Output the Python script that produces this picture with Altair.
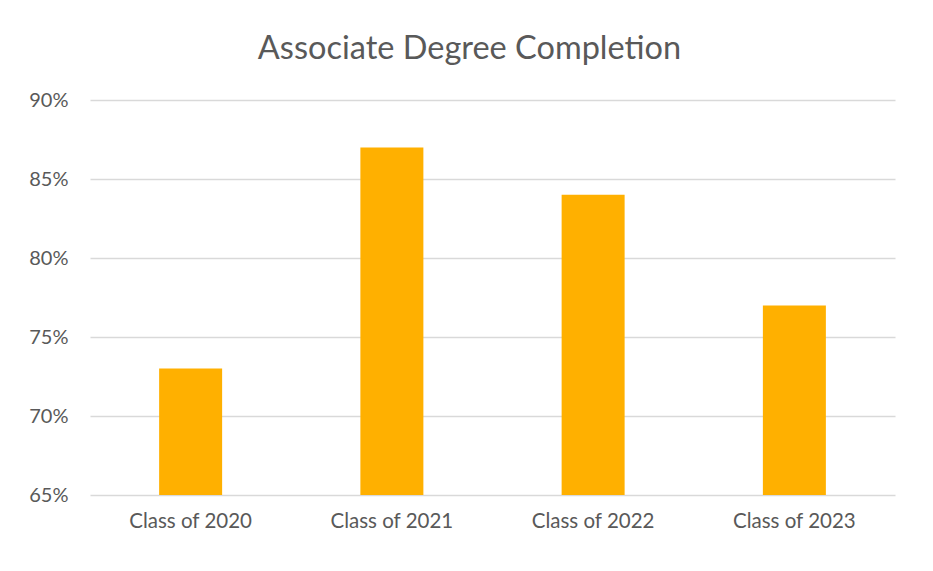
import altair as alt
import pandas as pd

categories = ["Class of 2020", "Class of 2021", "Class of 2022", "Class of 2023"]
completion = [0.73, 0.87, 0.84, 0.77]
baseline = [0.65, 0.65, 0.65, 0.65]

df = pd.DataFrame({"cls": categories, "rate": completion, "base": baseline})

FONT = "Lato"
GRAY = "#595959"

chart = alt.Chart(df).mark_bar(size=63, color="#FFB000").encode(
    x=alt.X("cls:N", sort=categories, title=None,
            scale=alt.Scale(paddingInner=0, paddingOuter=0),
            axis=alt.Axis(labelAngle=0, labelFontSize=20.5, labelColor=GRAY, labelFont=FONT,
                          domain=False, ticks=False, labelPadding=16)),
    y=alt.Y("rate:Q", title=None,
            scale=alt.Scale(domain=[0.65, 0.90], zero=False, nice=False),
            axis=alt.Axis(format=".0%", values=[0.65, 0.70, 0.75, 0.80, 0.85, 0.90],
                          labelFontSize=20, labelColor=GRAY, labelFont=FONT,
                          domain=False, ticks=False, labelPadding=22,
                          gridColor="#D9D9D9", gridWidth=1.5)),
    y2="base:Q",
).properties(
    width=805, height=395,
    padding={"left": 82, "top": 92, "right": 26, "bottom": 60},
    autosize=alt.AutoSizeParams(type="none"),
    title=alt.TitleParams("Associate Degree Completion", fontSize=32.5, font=FONT,
                          color=GRAY, fontWeight="normal", anchor="middle",
                          dx=-23, offset=25),
).configure(background="white").configure_view(stroke=None, strokeWidth=0)

chart.save("out.html", embed_options={"renderer": "svg", "actions": False})
